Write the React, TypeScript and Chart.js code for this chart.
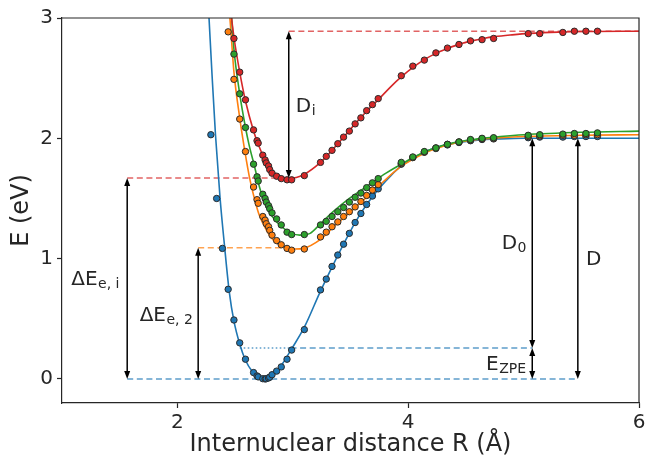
import React, { useEffect, useRef } from "react";
import { Chart, registerables } from "chart.js";

Chart.register(...registerables);

// ---------- data ----------
const xTicks = [2, 4, 6];
const yTicks = [0, 1, 2, 3];

// sampled distances of the computed points (Å)
const dotR = [2.29, 2.34, 2.39, 2.44, 2.49, 2.54, 2.59, 2.66, 2.69, 2.70, 2.74, 2.76, 2.77, 2.79, 2.80, 2.82, 2.86, 2.90, 2.95, 2.99, 3.10, 3.24, 3.29, 3.34, 3.39, 3.44, 3.49, 3.54, 3.59, 3.64, 3.69, 3.74, 3.94, 4.04, 4.14, 4.24, 4.34, 4.44, 4.54, 4.64, 4.74, 5.04, 5.14, 5.34, 5.44, 5.54, 5.64];

const blueDots = [2.03, 1.50, 1.085, 0.745, 0.49, 0.30, 0.164, 0.053, 0.025, 0.017, 0.002, 0.0, 0.002, 0.008, 0.015, 0.035, 0.065, 0.10, 0.164, 0.24, 0.41, 0.74, 0.83, 0.935, 1.03, 1.12, 1.21, 1.30, 1.375, 1.45, 1.52, 1.58, 1.785, 1.84, 1.885, 1.915, 1.945, 1.965, 1.98, 1.99, 1.995, 2.005, 2.01, 2.01, 2.015, 2.015, 2.015];
const orangeDots = [null, null, null, 2.885, 2.49, 2.16, 1.89, 1.595, 1.49, 1.46, 1.35, 1.32, 1.29, 1.265, 1.235, 1.195, 1.15, 1.115, 1.085, 1.07, 1.08, 1.18, 1.22, 1.265, 1.305, 1.35, 1.39, 1.43, 1.475, 1.525, 1.57, 1.615, 1.79, 1.84, 1.885, 1.92, 1.95, 1.97, 1.985, 1.995, 2.0, 2.015, 2.02, 2.025, 2.025, 2.03, 2.03];
const greenDots = [null, null, null, null, 2.70, 2.37, 2.09, 1.785, 1.68, 1.645, 1.535, 1.50, 1.47, 1.44, 1.415, 1.38, 1.33, 1.28, 1.22, 1.20, 1.20, 1.28, 1.31, 1.35, 1.39, 1.425, 1.47, 1.51, 1.545, 1.59, 1.63, 1.665, 1.80, 1.845, 1.89, 1.92, 1.95, 1.97, 1.99, 2.0, 2.005, 2.025, 2.03, 2.035, 2.04, 2.04, 2.045];
const redDots = [null, null, null, null, 2.83, 2.55, 2.32, 2.07, 1.98, 1.96, 1.86, 1.82, 1.795, 1.77, 1.74, 1.71, 1.685, 1.665, 1.655, 1.655, 1.69, 1.80, 1.85, 1.90, 1.955, 2.01, 2.06, 2.12, 2.17, 2.23, 2.28, 2.33, 2.52, 2.60, 2.65, 2.71, 2.75, 2.78, 2.81, 2.82, 2.83, 2.87, 2.87, 2.88, 2.89, 2.89, 2.89];

// fitted curves
const blueCurveR = [2.26, 2.274, 2.30, 2.33, 2.37, 2.41, 2.45, 2.49, 2.54, 2.59, 2.65, 2.70, 2.75, 2.80, 2.86, 2.92, 2.99, 3.10, 3.24, 3.34, 3.44, 3.54, 3.64, 3.75, 3.85, 3.94, 4.05, 4.20, 4.40, 4.60, 4.80, 5.00, 5.50, 6.00];
const blueCurveE = [3.25, 3.0, 2.53, 2.03, 1.50, 1.09, 0.72, 0.48, 0.29, 0.155, 0.06, 0.015, 0.0, 0.012, 0.06, 0.14, 0.25, 0.43, 0.73, 0.93, 1.12, 1.30, 1.45, 1.585, 1.69, 1.77, 1.84, 1.91, 1.96, 1.985, 1.995, 2.0, 2.0, 2.0];

const orangeCurveR = [2.44, 2.455, 2.49, 2.54, 2.585, 2.63, 2.67, 2.71, 2.77, 2.83, 2.90, 2.96, 3.02, 3.09, 3.24, 3.35, 3.49, 3.64, 3.79, 3.93, 4.05, 4.20, 4.40, 4.60, 4.80, 5.00, 5.50, 6.00];
const orangeCurveE = [3.15, 3.0, 2.55, 2.17, 1.89, 1.65, 1.49, 1.36, 1.24, 1.155, 1.105, 1.085, 1.08, 1.085, 1.16, 1.26, 1.38, 1.51, 1.645, 1.76, 1.83, 1.90, 1.96, 1.99, 2.005, 2.015, 2.025, 2.03];

const greenCurveR = [2.455, 2.47, 2.49, 2.54, 2.59, 2.62, 2.67, 2.71, 2.77, 2.86, 2.97, 3.06, 3.15, 3.24, 3.35, 3.49, 3.64, 3.79, 3.93, 4.05, 4.20, 4.40, 4.60, 4.80, 5.00, 5.50, 6.00];
const greenCurveE = [3.15, 3.0, 2.74, 2.37, 2.09, 1.95, 1.76, 1.60, 1.43, 1.305, 1.22, 1.195, 1.21, 1.29, 1.39, 1.50, 1.60, 1.70, 1.78, 1.845, 1.91, 1.965, 1.995, 2.015, 2.03, 2.05, 2.06];

const redCurveR = [2.455, 2.47, 2.49, 2.54, 2.59, 2.66, 2.70, 2.75, 2.81, 2.86, 2.92, 2.97, 3.03, 3.09, 3.24, 3.34, 3.44, 3.54, 3.64, 3.75, 3.85, 3.94, 4.05, 4.15, 4.25, 4.35, 4.45, 4.55, 4.65, 4.75, 4.90, 5.05, 5.30, 5.60, 6.00];
const redCurveE = [3.1, 2.99, 2.84, 2.55, 2.31, 2.06, 1.95, 1.84, 1.74, 1.70, 1.675, 1.668, 1.675, 1.695, 1.80, 1.90, 2.01, 2.12, 2.225, 2.33, 2.43, 2.51, 2.595, 2.66, 2.71, 2.75, 2.785, 2.81, 2.83, 2.845, 2.86, 2.872, 2.883, 2.888, 2.89];

// energy levels (dashed reference lines): y value, from R, to R
const levelE = [2.89, 1.67, 1.09, 0.0, 0.258, 0.258];
const levelFrom = [2.965, 1.565, 2.18, 1.565, 2.98, 2.54];
const levelTo = [6.0, 2.97, 3.0, 5.47, 5.075, 2.98];
const levelKind = ["red", "red", "orange", "blue", "blue", "blueDot"];

// double arrows: R, E start, E end
const arrowR = [2.965, 1.565, 2.18, 5.075, 5.075, 5.47];
const arrowE0 = [1.67, 0.0, 0.0, 0.258, 0.0, 0.0];
const arrowE1 = [2.89, 1.67, 1.09, 2.0, 0.258, 2.0];

// labels: main text, subscript, R (left), E (middle)
const labelMain = ["D", "ΔE", "ΔE", "D", "E", "D"];
const labelSub = ["i", "e, i", "e, 2", "0", "ZPE", ""];
const labelR = [3.026, 1.08, 1.673, 4.81, 4.675, 5.54];
const labelE = [2.275, 0.837, 0.545, 1.14, 0.133, 1.01];

// ---------- helpers ----------
const FONT = "'DejaVu Sans', 'Liberation Sans', sans-serif";
const AX = "#262626";

function toPoints(xs: number[], ys: (number | null)[]) {
  const out: { x: number; y: number }[] = [];
  xs.forEach((x, i) => {
    const v = ys[i];
    if (v !== null && v !== undefined) out.push({ x, y: v });
  });
  return out;
}

const levelStyle: Record<string, { color: string; dash: number[] }> = {
  red: { color: "rgba(214,39,40,0.72)", dash: [6, 3.6] },
  orange: { color: "rgba(255,127,14,0.72)", dash: [6, 3.6] },
  blue: { color: "rgba(31,119,180,0.72)", dash: [6, 3.6] },
  blueDot: { color: "rgba(31,119,180,0.72)", dash: [1.6, 2.4] },
};

const annotPlugin = {
  id: "physAnnot",
  beforeDatasetsDraw(chart: any) {
    const { ctx, chartArea: a, scales } = chart;
    const sx = scales.x, sy = scales.y;
    ctx.save();
    ctx.beginPath();
    ctx.rect(a.left, a.top, a.right - a.left, a.bottom - a.top);
    ctx.clip();
    levelE.forEach((e, i) => {
      const st = levelStyle[levelKind[i]];
      ctx.strokeStyle = st.color;
      ctx.lineWidth = 1.5;
      ctx.setLineDash(st.dash);
      const py = sy.getPixelForValue(e);
      ctx.beginPath();
      ctx.moveTo(sx.getPixelForValue(levelFrom[i]), py);
      ctx.lineTo(sx.getPixelForValue(levelTo[i]), py);
      ctx.stroke();
    });
    ctx.restore();
  },
  afterDatasetsDraw(chart: any) {
    const { ctx, chartArea: a, scales } = chart;
    const sx = scales.x, sy = scales.y;
    ctx.save();
    // arrows
    const hl = 8, hw = 3;
    ctx.strokeStyle = "#000";
    ctx.fillStyle = "#000";
    ctx.lineWidth = 1.5;
    ctx.setLineDash([]);
    arrowR.forEach((r, i) => {
      const px = sx.getPixelForValue(r);
      const p0 = sy.getPixelForValue(arrowE0[i]); // lower (bigger pixel)
      const p1 = sy.getPixelForValue(arrowE1[i]); // upper
      ctx.beginPath();
      ctx.moveTo(px, p0 - hl + 1);
      ctx.lineTo(px, p1 + hl - 1);
      ctx.stroke();
      ctx.beginPath();
      ctx.moveTo(px, p1);
      ctx.lineTo(px - hw, p1 + hl);
      ctx.lineTo(px + hw, p1 + hl);
      ctx.closePath();
      ctx.fill();
      ctx.beginPath();
      ctx.moveTo(px, p0);
      ctx.lineTo(px - hw, p0 - hl);
      ctx.lineTo(px + hw, p0 - hl);
      ctx.closePath();
      ctx.fill();
    });
    // labels
    ctx.fillStyle = AX;
    ctx.textBaseline = "alphabetic";
    ctx.textAlign = "left";
    labelMain.forEach((m, i) => {
      const px = sx.getPixelForValue(labelR[i]);
      const pm = sy.getPixelForValue(labelE[i]);
      const base = pm + 0.36 * 20;
      ctx.font = `20px ${FONT}`;
      ctx.fillText(m, px, base);
      const w = ctx.measureText(m).width;
      if (labelSub[i]) {
        ctx.font = `14px ${FONT}`;
        ctx.fillText(labelSub[i], px + w + 0.5, base + 3);
      }
    });
    // top & right spines
    ctx.strokeStyle = AX;
    ctx.lineWidth = 1.2;
    ctx.beginPath();
    ctx.moveTo(a.left, a.top);
    ctx.lineTo(a.right, a.top);
    ctx.lineTo(a.right, a.bottom);
    ctx.stroke();
    ctx.restore();
  },
};

const C = {
  blue: "#1f77b4",
  orange: "#ff7f0e",
  green: "#2ca02c",
  red: "#d62728",
};

function curveDs(xs: number[], ys: number[], color: string, order: number) {
  return {
    type: "line" as const,
    data: toPoints(xs, ys),
    borderColor: color,
    backgroundColor: color,
    borderWidth: 1.6,
    pointRadius: 0,
    showLine: true,
    fill: false,
    cubicInterpolationMode: "monotone" as const,
    order,
    clip: 0,
  };
}

function dotDs(ys: (number | null)[], color: string, order: number) {
  return {
    type: "scatter" as const,
    data: toPoints(dotR, ys),
    backgroundColor: color,
    borderColor: "#2b2b2b",
    borderWidth: 1,
    pointRadius: 3.2,
    showLine: false,
    order,
    clip: 0,
  };
}

export default function App() {
  const ref = useRef<HTMLCanvasElement>(null);
  useEffect(() => {
    if (!ref.current) return;
    const chart = new Chart(ref.current, {
      type: "scatter",
      data: {
        datasets: [
          dotDs(redDots, C.red, 0),
          dotDs(greenDots, C.green, 1),
          dotDs(orangeDots, C.orange, 2),
          dotDs(blueDots, C.blue, 3),
          curveDs(redCurveR, redCurveE, C.red, 4),
          curveDs(greenCurveR, greenCurveE, C.green, 5),
          curveDs(orangeCurveR, orangeCurveE, C.orange, 6),
          curveDs(blueCurveR, blueCurveE, C.blue, 7),
        ] as any,
      },
      options: {
        responsive: false,
        animation: false,
        devicePixelRatio: 1,
        layout: { padding: { top: 18, right: 7, left: 0, bottom: 0 } },
        plugins: { legend: { display: false }, tooltip: { enabled: false } },
        events: [],
        scales: {
          x: {
            type: "linear",
            min: 1,
            max: 6,
            afterBuildTicks: (s: any) => {
              s.ticks = xTicks.map((v) => ({ value: v }));
            },
            afterFit: (s: any) => {
              s.height = 57;
              s.paddingLeft = 0;
              s.paddingRight = 0;
            },
            ticks: {
              font: { family: FONT, size: 20 },
              color: AX,
              padding: 3,
              maxRotation: 0,
              autoSkip: false,
              callback: (v: any) => String(v),
            },
            grid: { display: true, drawOnChartArea: false, drawTicks: true, tickLength: 5, color: AX, tickWidth: 1.2 },
            border: { display: true, color: AX, width: 1.2 },
            title: {
              display: true,
              text: "Internuclear distance R (Å)",
              font: { family: FONT, size: 24 },
              color: AX,
              padding: { top: 0, bottom: 1 },
            },
          },
          y: {
            type: "linear",
            min: -0.2,
            max: 3,
            afterBuildTicks: (s: any) => {
              s.ticks = yTicks.map((v) => ({ value: v }));
            },
            afterFit: (s: any) => {
              s.width = 62;
              s.paddingTop = 0;
              s.paddingBottom = 0;
            },
            ticks: {
              font: { family: FONT, size: 20 },
              color: AX,
              padding: 4,
              callback: (v: any) => String(v),
            },
            grid: { display: true, drawOnChartArea: false, drawTicks: true, tickLength: 5, color: AX, tickWidth: 1.2 },
            border: { display: true, color: AX, width: 1.2 },
            title: {
              display: true,
              text: "E (eV)",
              font: { family: FONT, size: 24 },
              color: AX,
              padding: { top: 7, bottom: 0 },
            },
          },
        },
      } as any,
      plugins: [annotPlugin],
    });
    return () => chart.destroy();
  }, []);
  return (
    <div style={{ position: "absolute", left: 0, top: 0, width: 646, height: 460, background: "#fff" }}>
      <canvas ref={ref} width={646} height={460} style={{ display: "block" }} />
    </div>
  );
}
